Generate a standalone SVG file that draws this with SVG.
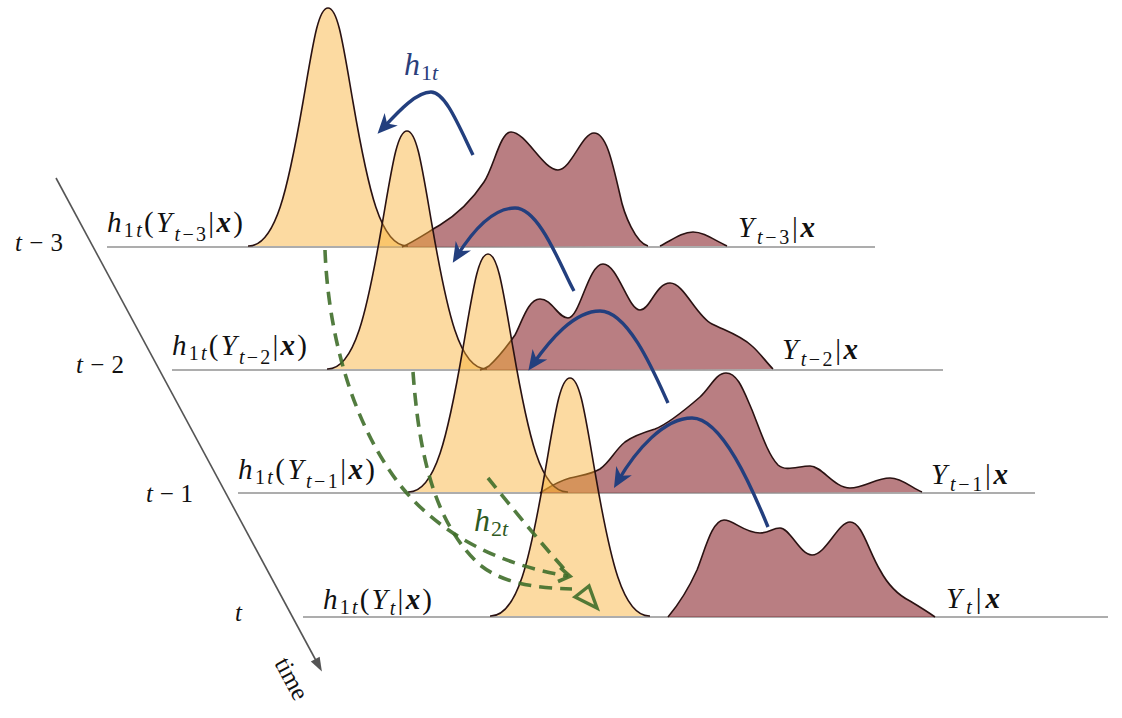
<svg xmlns="http://www.w3.org/2000/svg" width="1122" height="718" viewBox="0 0 1122 718" font-family="'Liberation Serif', 'Times New Roman', serif">
<defs>
<style>
.base{stroke:#5c5c5c;stroke-width:1.2}
.mf{fill:#8E2F35;fill-opacity:.62;stroke:none}
.of{fill:#F8AC2E;fill-opacity:.45;stroke:none}
.ol{fill:none;stroke:#2a1212;stroke-width:1.6}
.lbl{font-family:'Liberation Serif','Times New Roman',serif;font-size:29px;fill:#111}
.tk{font-family:'Liberation Serif','Times New Roman',serif;font-size:25px;fill:#111}
.i{font-style:italic}
.s{font-size:20px}
.b{font-weight:bold;font-style:italic}
.big{font-size:32px}
.bigs{font-size:22px}
.hb{fill:#2B3F7B}
.hg{fill:#2F5A22}
.blue{fill:none;stroke:#233F7E;stroke-width:3.4}
.green{fill:none;stroke:#3F6E2A;stroke-width:3.6;stroke-dasharray:13 8;stroke-opacity:.9}
.axis{fill:none;stroke:#555;stroke-width:1.6}
</style>
<marker id="bh" markerUnits="userSpaceOnUse" viewBox="-13 -10 22 20" markerWidth="22" markerHeight="20" refX="0" refY="0" orient="auto" overflow="visible"><path d="M8,0 L-12,-9 L-6,0 L-12,9 Z" fill="#233F7E"/></marker>
<marker id="gh" markerUnits="userSpaceOnUse" viewBox="-12 -9 20 18" markerWidth="20" markerHeight="18" refX="0" refY="0" orient="auto" overflow="visible"><path d="M-9,-7 L2,0 L-9,7" fill="none" stroke="#3F6E2A" stroke-opacity=".9" stroke-width="3.6"/></marker>
<marker id="ah" markerUnits="userSpaceOnUse" viewBox="-12 -7 18 14" markerWidth="18" markerHeight="14" refX="0" refY="0" orient="auto" overflow="visible"><path d="M4,0 L-10,-5 L-10,5 Z" fill="#555"/></marker>
<path id="o0" d="M248,246 C275.5,247 288,189 303,102 C313,44 318,8 328,8 C338,8 343,44 353,102 C368,189 380.5,247 408,246"/>
<path id="o1" d="M327,369 C354.5,370 367,312 382,225 C392,167 397,131 407,131 C417,131 422,167 432,225 C447,312 459.5,370 487,369"/>
<path id="o2" d="M408,492 C435.5,493 448,435 463,348 C473,290 478,254 488,254 C498,254 503,290 513,348 C528,435 540.5,493 568,492"/>
<path id="o3" d="M490,616 C517.5,617 530,559 545,472 C555,414 560,378 570,378 C580,378 585,414 595,472 C610,559 622.5,617 650,616"/>
<path id="m0" d="M402,247 C415,241 428,232 440,225 C458,214 472,200 484,182 C494,167 500,132 511,132 C526,132 543,170 558,170 C571,170 582,133 594,133 C606,133 612,160 620,195 C624,215 636,243 648,246"/>
<path id="m0b" d="M660,246 C672,240 682,232 693,232 C704,232 714,240 727,246"/>
<path id="m1" d="M480,370 C484,369 486,368 489,366 C498,358 508,345 515,335 C522,322 528,299 540,299 C552,299 558,318 568,318 C580,318 588,264 603,264 C618,264 628,310 640,310 C650,310 656,283 670,283 C684,283 696,316 712,324 C726,331 740,335 752,346 C760,353 766,362 773,369"/>
<path id="m2" d="M540,493 C548,488 556,482 570,478 C582,475 592,474 600,469 C610,462 615,450 625,442 C633,436 645,432 655,429 C668,424 685,410 700,397 C710,388 716,373 726,373 C738,373 744,392 752,410 C760,430 768,455 778,465 C786,472 798,466 810,466 C822,466 834,488 850,488 C864,488 876,478 890,478 C902,478 912,488 922,492"/>
<path id="m3" d="M668,617 C678,605 688,590 697,570 C705,550 712,520 724,520 C734,520 744,533 760,533 C770,533 772,528 780,528 C790,528 800,555 812,555 C826,555 838,522 850,522 C862,522 868,550 880,570 C888,585 898,595 910,601 C920,607 928,612 935,617"/>
</defs>

<g id="time-axis">
<path class="axis" d="M56,178 L320,668" marker-end="url(#ah)"/>
<text class="tk" x="274" y="663" font-size="24" transform="rotate(61.6 274 663)">time</text>
<text class="tk" x="15" y="251" textLength="48" lengthAdjust="spacing"><tspan class="i">t</tspan> − 3</text>
<text class="tk" x="76" y="373" textLength="48" lengthAdjust="spacing"><tspan class="i">t</tspan> − 2</text>
<text class="tk" x="146" y="502" textLength="47" lengthAdjust="spacing"><tspan class="i">t</tspan> − 1</text>
<text class="tk i" x="235" y="621">t</text>
</g>

<g id="row-t-3">
<line class="base" x1="107" y1="247" x2="875" y2="247"/>
<use href="#m0" class="mf"/><use href="#m0" class="ol"/>
<use href="#m0b" class="mf"/><use href="#m0b" class="ol"/>
<use href="#o0" class="of"/><use href="#o0" class="ol"/>
<text class="lbl" x="107" y="232" textLength="136" lengthAdjust="spacing"><tspan class="i">h</tspan><tspan class="s" dy="5">1</tspan><tspan class="s i">t</tspan><tspan dy="-5">(</tspan><tspan class="i">Y</tspan><tspan class="s i" dy="9">t</tspan><tspan class="s">−3</tspan><tspan dy="-9">|</tspan><tspan class="b">x</tspan>)</text>
<text class="lbl" x="738" y="237" textLength="77" lengthAdjust="spacing"><tspan class="i">Y</tspan><tspan class="s i" dy="7">t</tspan><tspan class="s">−3</tspan><tspan dy="-7">|</tspan><tspan class="b">x</tspan></text>
</g>

<g id="row-t-2">
<line class="base" x1="172" y1="370" x2="943" y2="370"/>
<use href="#m1" class="mf"/><use href="#m1" class="ol"/>
<use href="#o1" class="of"/><use href="#o1" class="ol"/>
<text class="lbl" x="172" y="355" textLength="135" lengthAdjust="spacing"><tspan class="i">h</tspan><tspan class="s" dy="5">1</tspan><tspan class="s i">t</tspan><tspan dy="-5">(</tspan><tspan class="i">Y</tspan><tspan class="s i" dy="9">t</tspan><tspan class="s">−2</tspan><tspan dy="-9">|</tspan><tspan class="b">x</tspan>)</text>
<text class="lbl" x="782" y="359" textLength="76" lengthAdjust="spacing"><tspan class="i">Y</tspan><tspan class="s i" dy="7">t</tspan><tspan class="s">−2</tspan><tspan dy="-7">|</tspan><tspan class="b">x</tspan></text>
</g>

<g id="row-t-1">
<line class="base" x1="238" y1="493" x2="1035" y2="493"/>
<use href="#m2" class="mf"/><use href="#m2" class="ol"/>
<use href="#o2" class="of"/><use href="#o2" class="ol"/>
<text class="lbl" x="238" y="479" textLength="137" lengthAdjust="spacing"><tspan class="i">h</tspan><tspan class="s" dy="5">1</tspan><tspan class="s i">t</tspan><tspan dy="-5">(</tspan><tspan class="i">Y</tspan><tspan class="s i" dy="9">t</tspan><tspan class="s">−1</tspan><tspan dy="-9">|</tspan><tspan class="b">x</tspan>)</text>
<text class="lbl" x="931" y="484" textLength="77" lengthAdjust="spacing"><tspan class="i">Y</tspan><tspan class="s i" dy="7">t</tspan><tspan class="s">−1</tspan><tspan dy="-7">|</tspan><tspan class="b">x</tspan></text>
</g>

<g id="row-t">
<line class="base" x1="303" y1="617" x2="1108" y2="617"/>
<use href="#m3" class="mf"/><use href="#m3" class="ol"/>
<use href="#o3" class="of"/><use href="#o3" class="ol"/>
<text class="lbl" x="323" y="609" textLength="109" lengthAdjust="spacing"><tspan class="i">h</tspan><tspan class="s" dy="5">1</tspan><tspan class="s i">t</tspan><tspan dy="-5">(</tspan><tspan class="i">Y</tspan><tspan class="s i" dy="6">t</tspan><tspan dy="-6">|</tspan><tspan class="b">x</tspan>)</text>
<text class="lbl" x="946" y="608" textLength="54" lengthAdjust="spacing"><tspan class="i">Y</tspan><tspan class="s i" dy="6">t</tspan><tspan dy="-6">|</tspan><tspan class="b">x</tspan></text>
</g>

<g id="connectors-h2t">
<path class="green" d="M325,250 C328,330 350,420 400,485 C440,535 500,565 568,576" marker-end="url(#gh)"/>
<path class="green" d="M413,372 C418,440 430,520 480,565 C505,585 540,588 572,589"/>
<path class="green" d="M488,478 C510,505 538,540 566,571"/>
<polygon points="575,597 589,586 597,608" fill="none" stroke="#3F6E2A" stroke-opacity=".9" stroke-width="3.4"/>
<text class="lbl hg big" x="474" y="531"><tspan class="i">h</tspan><tspan class="bigs" dy="5" dx="1">2</tspan><tspan class="bigs i">t</tspan></text>
</g>

<g id="connectors-h1t">
<path class="blue" d="M473,155 C458,124 445,92 431,92 C416,92 398,112 383,128" marker-end="url(#bh)"/>
<path class="blue" d="M574,291 C562,270 540,208 515,208 C492,208 472,232 457,256" marker-end="url(#bh)"/>
<path class="blue" d="M668,403 C654,372 628,311 600,311 C574,311 550,340 533,364" marker-end="url(#bh)"/>
<path class="blue" d="M768,527 C752,488 722,418 692,418 C664,418 636,450 618,481" marker-end="url(#bh)"/>
<text class="lbl hb big" x="404" y="75"><tspan class="i">h</tspan><tspan class="bigs" dy="5" dx="1">1</tspan><tspan class="bigs i">t</tspan></text>
</g>
</svg>
